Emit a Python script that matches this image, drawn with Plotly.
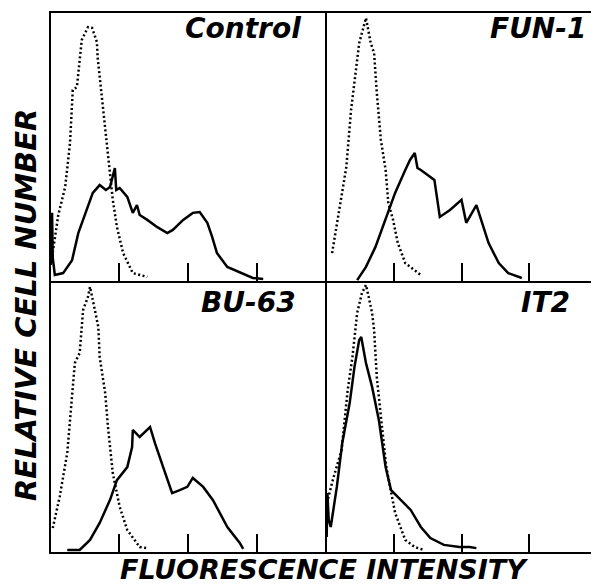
import plotly.graph_objects as go

# ---- data (x in log decades 0..4, y relative cell number 0..1) ----
panel_labels = ["Control", "FUN-1", "BU-63", "IT2"]
tick_positions = [1, 2, 3]

control_dot_x = [0.03, 0.12, 0.22, 0.29, 0.33, 0.39, 0.46, 0.55, 0.61, 0.68, 0.69, 0.72, 0.77, 0.83, 0.87, 0.91, 0.97, 1.06, 1.20, 1.41]
control_dot_y = [0.093, 0.248, 0.352, 0.515, 0.711, 0.722, 0.896, 0.944, 0.941, 0.889, 0.833, 0.759, 0.637, 0.489, 0.404, 0.304, 0.204, 0.107, 0.033, 0.019]
control_sol_x = [0.01, 0.03, 0.04, 0.07, 0.19, 0.32, 0.41, 0.54, 0.62, 0.72, 0.81, 0.87, 0.94, 0.96, 1.01, 1.12, 1.20, 1.26, 1.30, 1.41, 1.55, 1.70, 1.78, 1.93, 2.07, 2.17, 2.28, 2.35, 2.42, 2.57, 2.75, 2.94, 3.09]
control_sol_y = [0.063, 0.256, 0.089, 0.026, 0.033, 0.081, 0.181, 0.278, 0.330, 0.359, 0.341, 0.352, 0.422, 0.341, 0.348, 0.315, 0.256, 0.285, 0.248, 0.230, 0.204, 0.181, 0.193, 0.230, 0.256, 0.259, 0.219, 0.167, 0.107, 0.056, 0.037, 0.015, 0.011]

fun1_dot_x = [0.09, 0.20, 0.30, 0.37, 0.42, 0.49, 0.59, 0.66, 0.71, 0.75, 0.81, 0.88, 0.92, 0.99, 1.06, 1.17, 1.40]
fun1_dot_y = [0.107, 0.278, 0.426, 0.637, 0.737, 0.885, 0.978, 0.885, 0.848, 0.700, 0.526, 0.415, 0.293, 0.230, 0.144, 0.070, 0.026]
fun1_sol_x = [0.46, 0.59, 0.73, 0.88, 1.02, 1.17, 1.24, 1.31, 1.35, 1.40, 1.53, 1.60, 1.68, 1.83, 2.00, 2.07, 2.22, 2.32, 2.40, 2.55, 2.69, 2.89]
fun1_sol_y = [0.007, 0.056, 0.130, 0.230, 0.330, 0.415, 0.452, 0.478, 0.422, 0.415, 0.389, 0.378, 0.241, 0.267, 0.304, 0.219, 0.285, 0.204, 0.144, 0.070, 0.033, 0.015]

bu63_dot_x = [0.04, 0.14, 0.25, 0.32, 0.36, 0.43, 0.48, 0.55, 0.58, 0.65, 0.70, 0.72, 0.80, 0.84, 0.91, 1.01, 1.12, 1.30, 1.41]
bu63_dot_y = [0.092, 0.207, 0.369, 0.576, 0.701, 0.738, 0.897, 0.945, 0.982, 0.897, 0.834, 0.723, 0.590, 0.465, 0.295, 0.170, 0.085, 0.022, 0.018]
bu63_sol_x = [0.25, 0.43, 0.58, 0.72, 0.87, 0.97, 1.12, 1.19, 1.20, 1.30, 1.45, 1.52, 1.64, 1.77, 1.88, 1.99, 2.07, 2.22, 2.36, 2.46, 2.57, 2.75, 2.80]
bu63_sol_y = [0.011, 0.011, 0.048, 0.111, 0.196, 0.269, 0.317, 0.391, 0.454, 0.428, 0.465, 0.406, 0.317, 0.221, 0.232, 0.244, 0.277, 0.244, 0.196, 0.148, 0.096, 0.037, 0.015]

it2_dot_x = [0.03, 0.10, 0.23, 0.32, 0.39, 0.46, 0.53, 0.59, 0.63, 0.68, 0.71, 0.75, 0.82, 0.89, 1.02, 1.17, 1.31, 1.45]
it2_dot_y = [0.20, 0.269, 0.380, 0.601, 0.723, 0.886, 0.959, 0.989, 0.945, 0.886, 0.823, 0.649, 0.480, 0.317, 0.148, 0.048, 0.022, 0.011]
it2_sol_x = [0.01, 0.02, 0.04, 0.07, 0.16, 0.24, 0.35, 0.42, 0.49, 0.52, 0.59, 0.68, 0.78, 0.88, 0.96, 1.11, 1.25, 1.40, 1.54, 1.74, 1.97, 2.12, 2.22]
it2_sol_y = [0.059, 0.221, 0.122, 0.096, 0.244, 0.406, 0.554, 0.686, 0.786, 0.797, 0.701, 0.613, 0.491, 0.317, 0.232, 0.196, 0.159, 0.096, 0.055, 0.030, 0.022, 0.022, 0.018]

panels = [
    (control_dot_x, control_dot_y, control_sol_x, control_sol_y),
    (fun1_dot_x, fun1_dot_y, fun1_sol_x, fun1_sol_y),
    (bu63_dot_x, bu63_dot_y, bu63_sol_x, bu63_sol_y),
    (it2_dot_x, it2_dot_y, it2_sol_x, it2_sol_y),
]

OFF = 8  # default page body margin
W, H = 599 - OFF, 585 - OFF
left, mid_x, right = 50, 326, 597
top, mid_y, bottom = 12, 282, 553

def fx(px):
    return (px - OFF) / W

def fy(py):
    return 1 - (py - OFF) / H

x_domains = [[fx(left), fx(mid_x)], [fx(mid_x), fx(right)]]
y_domains = [[fy(mid_y), fy(top)], [fy(bottom), fy(mid_y)]]

fig = go.Figure()
layout = dict(
    width=W, height=H, margin=dict(l=0, r=0, t=0, b=0),
    paper_bgcolor="white", plot_bgcolor="white", showlegend=False,
)

for i, (dx, dy, sx, sy) in enumerate(panels):
    r, c = divmod(i, 2)
    n = "" if i == 0 else str(i + 1)
    fig.add_trace(go.Scatter(x=dx, y=dy, mode="lines", xaxis="x" + n, yaxis="y" + n,
                             line=dict(color="black", width=2.5, dash="2px,2.5px"), hoverinfo="skip"))
    fig.add_trace(go.Scatter(x=sx, y=sy, mode="lines", xaxis="x" + n, yaxis="y" + n,
                             line=dict(color="black", width=2.5), hoverinfo="skip"))
    layout["xaxis" + n] = dict(
        domain=x_domains[c], range=[0, 4], anchor="y" + n,
        showgrid=False, zeroline=False, showline=True, mirror=True,
        linecolor="black", linewidth=1,
        tickmode="array", tickvals=tick_positions, ticks="inside", ticklen=19,
        tickwidth=1.5, tickcolor="black", showticklabels=False,
    )
    layout["yaxis" + n] = dict(
        domain=y_domains[r], range=[0, 1], anchor="x" + n,
        showgrid=False, zeroline=False, showline=True, mirror=True,
        linecolor="black", linewidth=1, showticklabels=False, ticks="",
    )

fig.update_layout(**layout)

# outer frame
fig.add_shape(type="rect", xref="paper", yref="paper",
              x0=fx(left), x1=fx(right), y0=fy(bottom), y1=fy(top),
              line=dict(color="black", width=2), fillcolor="rgba(0,0,0,0)")

font = dict(family="DejaVu Sans", size=28, color="black", weight="bold", style="italic")
label_pos = [(303, 28), (588, 28), (298, 302), (572, 302)]
for lab, (px, py) in zip(panel_labels, label_pos):
    fig.add_annotation(text=lab, xref="paper", yref="paper", x=fx(px), y=fy(py),
                       xanchor="right", yanchor="middle", showarrow=False, font=font)

fig.add_annotation(text="FLUORESCENCE INTENSITY", xref="paper", yref="paper",
                   x=fx(324), y=fy(569), xanchor="center", yanchor="middle",
                   showarrow=False, font=dict(font, size=27))
fig.add_annotation(text="RELATIVE CELL NUMBER", xref="paper", yref="paper",
                   x=fx(26), y=fy(305), xanchor="center", yanchor="middle",
                   textangle=-90, showarrow=False, font=dict(font, size=29))

fig.write_html("out.html")
